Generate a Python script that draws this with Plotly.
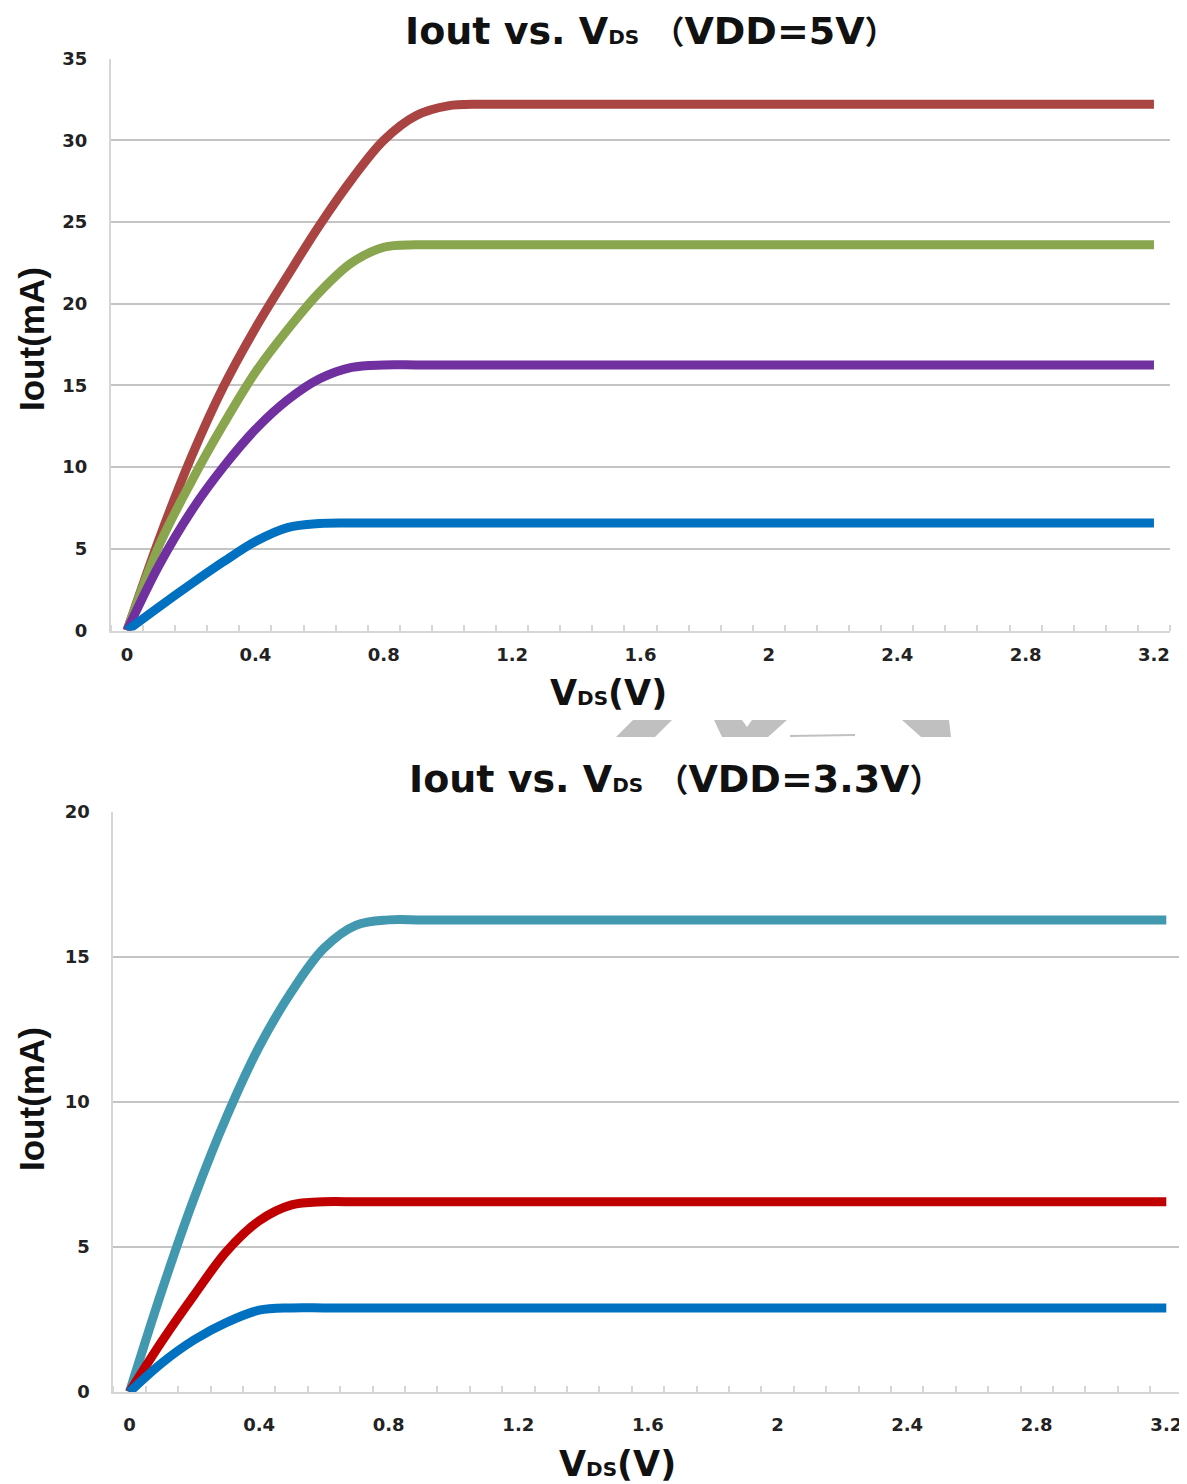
import plotly.graph_objects as go

# the page places the figure 8px from the top-left corner (body margin)
OFF = 8
W, H = 1187 - OFF, 1484 - OFF

# ---------------- data ----------------
vds = [0.0, 0.1, 0.2, 0.3, 0.4, 0.5, 0.6, 0.7, 0.8, 0.9, 1.0,
       1.1, 1.2, 1.3, 1.4, 1.5, 1.6, 1.7, 1.8, 1.9, 2.0, 2.1,
       2.2, 2.3, 2.4, 2.5, 2.6, 2.7, 2.8, 2.9, 3.0, 3.1, 3.2]

# VDD = 5V
top_red = [0, 5.6, 10.6, 14.9, 18.5, 21.7, 24.8, 27.6, 30.0, 31.5, 32.1,
           32.2, 32.2, 32.2, 32.2, 32.2, 32.2, 32.2, 32.2, 32.2, 32.2, 32.2,
           32.2, 32.2, 32.2, 32.2, 32.2, 32.2, 32.2, 32.2, 32.2, 32.2, 32.2]
top_green = [0, 5.2, 9.1, 12.6, 15.8, 18.4, 20.7, 22.5, 23.45, 23.6, 23.6,
             23.6, 23.6, 23.6, 23.6, 23.6, 23.6, 23.6, 23.6, 23.6, 23.6, 23.6,
             23.6, 23.6, 23.6, 23.6, 23.6, 23.6, 23.6, 23.6, 23.6, 23.6, 23.6]
top_purple = [0, 4.0, 7.3, 10.0, 12.3, 14.1, 15.4, 16.1, 16.25, 16.25, 16.25,
              16.25, 16.25, 16.25, 16.25, 16.25, 16.25, 16.25, 16.25, 16.25, 16.25, 16.25,
              16.25, 16.25, 16.25, 16.25, 16.25, 16.25, 16.25, 16.25, 16.25, 16.25, 16.25]
top_blue = [0, 1.45, 2.85, 4.2, 5.45, 6.3, 6.55, 6.58, 6.58, 6.58, 6.58,
            6.58, 6.58, 6.58, 6.58, 6.58, 6.58, 6.58, 6.58, 6.58, 6.58, 6.58,
            6.58, 6.58, 6.58, 6.58, 6.58, 6.58, 6.58, 6.58, 6.58, 6.58, 6.58]

# VDD = 3.3V
bot_cyan = [0, 3.5, 6.7, 9.5, 11.9, 13.8, 15.3, 16.1, 16.28, 16.28, 16.28,
            16.28, 16.28, 16.28, 16.28, 16.28, 16.28, 16.28, 16.28, 16.28, 16.28, 16.28,
            16.28, 16.28, 16.28, 16.28, 16.28, 16.28, 16.28, 16.28, 16.28, 16.28, 16.28]
bot_red = [0, 1.75, 3.35, 4.85, 5.9, 6.45, 6.56, 6.56, 6.56, 6.56, 6.56,
           6.56, 6.56, 6.56, 6.56, 6.56, 6.56, 6.56, 6.56, 6.56, 6.56, 6.56,
           6.56, 6.56, 6.56, 6.56, 6.56, 6.56, 6.56, 6.56, 6.56, 6.56, 6.56]
bot_blue = [0, 1.0, 1.8, 2.4, 2.82, 2.9, 2.9, 2.9, 2.9, 2.9, 2.9,
            2.9, 2.9, 2.9, 2.9, 2.9, 2.9, 2.9, 2.9, 2.9, 2.9, 2.9,
            2.9, 2.9, 2.9, 2.9, 2.9, 2.9, 2.9, 2.9, 2.9, 2.9, 2.9]

x_tickvals = [0, 0.4, 0.8, 1.2, 1.6, 2.0, 2.4, 2.8, 3.2]
x_ticktext = ["0", "0.4", "0.8", "1.2", "1.6", "2", "2.4", "2.8", "3.2"]
top_yticks = [0, 5, 10, 15, 20, 25, 30, 35]
bot_yticks = [0, 5, 10, 15, 20]

# ---------------- helpers (screen px -> paper) ----------------
def px(x):
    return (x - OFF) / W

def py(y):
    return 1 - (y - OFF) / H

FONT = "DejaVu Sans, Noto Sans CJK SC, sans-serif"
GRID = "#C4C4C4"
AXIS = "#D6D6D6"

fig = go.Figure()

def add(y, color, xa, ya):
    fig.add_trace(go.Scatter(x=vds, y=y, mode="lines",
                             line=dict(color=color, width=9, shape="spline", smoothing=1.0),
                             xaxis=xa, yaxis=ya, hoverinfo="skip", showlegend=False))

add(top_red, "#AA4442", "x", "y")
add(top_green, "#89A64E", "x", "y")
add(top_purple, "#7030A0", "x", "y")
add(top_blue, "#0070C0", "x", "y")

add(bot_cyan, "#4198AF", "x2", "y2")
add(bot_red, "#C00000", "x2", "y2")
add(bot_blue, "#0070C0", "x2", "y2")

tickfont = dict(family=FONT, size=18, color="#222222", weight="bold")

def xaxis(domain, anchor, standoff):
    return dict(domain=domain, anchor=anchor, range=[-0.05, 3.25],
                automargin=False,
                tickmode="array", tickvals=x_tickvals, ticktext=x_ticktext,
                ticks="", showgrid=False, zeroline=False,
                showline=True, linecolor=AXIS, linewidth=2,
                tickfont=tickfont, ticklabelstandoff=standoff,
                minor=dict(tickmode="linear", tick0=-0.05, dtick=0.1,
                           ticks="inside", ticklen=6, tickwidth=1.5,
                           tickcolor=AXIS, showgrid=False))

def yaxis(domain, anchor, rng, tv):
    return dict(domain=domain, anchor=anchor, range=rng,
                automargin=False,
                tickmode="array", tickvals=tv, ticks="",
                showgrid=True, gridcolor=GRID, gridwidth=2,
                zeroline=False, showline=True, linecolor=AXIS, linewidth=2,
                tickfont=tickfont, ticklabelstandoff=18)

fig.update_layout(
    width=W, height=H,
    margin=dict(l=0, r=0, t=0, b=0, autoexpand=False),
    paper_bgcolor="white", plot_bgcolor="white",
    xaxis=xaxis([px(111), px(1170)], "y", 7),
    yaxis=yaxis([py(630.5), py(58.5)], "x", [0, 35], top_yticks),
    xaxis2=xaxis([px(113.3), px(1182.5)], "y2", 15),
    yaxis2=yaxis([py(1392), py(812)], "x2", [0, 20], bot_yticks),
)

def ann(text, x, y, size, angle=0, fam=FONT):
    fig.add_annotation(text=text, x=px(x), y=py(y), xref="paper", yref="paper",
                       showarrow=False, textangle=angle, xanchor="center", yanchor="middle",
                       font=dict(family=fam, size=size, color="#111111", weight="bold"))

sub = '<span style="font-size:20px">DS</span>'
lp = '<span style="font-size:32px">（</span>'
rp = '<span style="font-size:32px">）</span>'
ann("Iout vs. V" + sub + " " + lp + "VDD=5V" + rp, 651, 31, 38)
ann("Iout vs. V" + sub + " " + lp + "VDD=3.3V" + rp, 675, 779, 38)
ann("V" + sub + "(V)", 609, 693, 35)
ann("V" + sub + "(V)", 617, 1464, 35)
ann("Iout(mA)", 31, 339, 35, -90, "Liberation Sans, Arial, sans-serif")
ann("Iout(mA)", 31, 1099, 35, -90, "Liberation Sans, Arial, sans-serif")

# gray watermark fragments between the two panels
def path(pts):
    return "M " + " L ".join(f"{px(a):.5f},{py(b):.5f}" for a, b in pts) + " Z"

frags = [
    [(633, 720), (672, 720), (655, 737), (616, 737)],
    [(714, 720), (742, 720), (747, 727), (752, 720), (787, 720), (768, 737), (722, 737)],
    [(790, 735), (855, 734), (855, 736), (790, 737)],
    [(902, 720), (949, 720), (951, 737), (921, 737)],
]
for f in frags:
    fig.add_shape(type="path", path=path(f), xref="paper", yref="paper",
                  fillcolor="#C0C0C0", line=dict(width=0), layer="above")

fig.write_html("out.html")
